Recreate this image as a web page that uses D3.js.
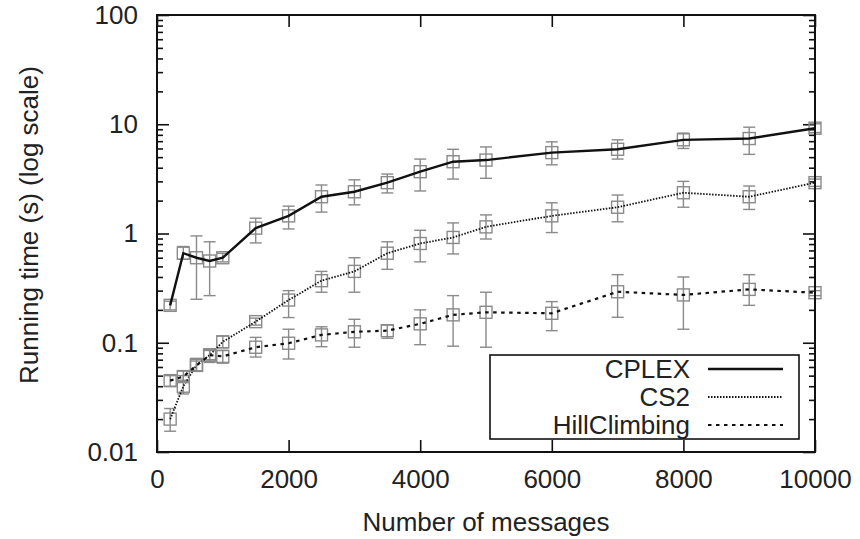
<!DOCTYPE html>
<html>
<head>
<meta charset="utf-8">
<script src="https://cdn.jsdelivr.net/npm/d3@7"></script>
<style>
  html, body { margin: 0; padding: 0; background: #fff; }
  svg { display: block; }
  text { font-family: "Liberation Sans", Arial, Helvetica, sans-serif; fill: #222; }
</style>
</head>
<body>
<svg id="chart" width="860" height="539"></svg>
<script>
// ---- data ----
const messages = [200, 400, 600, 800, 1000, 1500, 2000, 2500, 3000, 3500, 4000, 4500, 5000, 6000, 7000, 8000, 9000, 10000];

const cplexMean = [0.22, 0.66, 0.60, 0.56, 0.60, 1.12, 1.45, 2.17, 2.41, 2.92, 3.68, 4.54, 4.7, 5.5, 5.9, 7.2, 7.4, 9.2];
const cplexLow  = [0.20, 0.58, 0.25, 0.27, 0.55, 0.82, 1.10, 1.57, 1.83, 2.35, 2.45, 3.15, 3.2, 4.25, 4.8, 6.0, 5.3, 8.4];
const cplexHigh = [0.24, 0.76, 0.95, 0.84, 0.66, 1.38, 1.78, 2.78, 3.10, 3.50, 4.80, 5.90, 6.2, 6.9, 7.2, 8.3, 9.4, 10.1];

const cs2Mean = [0.020, 0.040, 0.0625, 0.077, 0.102, 0.156, 0.246, 0.37, 0.45, 0.66, 0.81, 0.92, 1.15, 1.45, 1.74, 2.36, 2.17, 2.92];
const cs2Low  = [0.0155, 0.034, 0.055, 0.070, 0.090, 0.145, 0.17, 0.29, 0.29, 0.47, 0.55, 0.65, 0.89, 1.02, 1.28, 1.74, 1.66, 2.7];
const cs2High = [0.025, 0.050, 0.072, 0.088, 0.115, 0.168, 0.30, 0.45, 0.60, 0.84, 1.07, 1.25, 1.48, 1.91, 2.25, 3.0, 2.72, 3.15];

const hcMean = [0.045, 0.049, 0.062, 0.077, 0.075, 0.091, 0.099, 0.118, 0.126, 0.129, 0.149, 0.18, 0.19, 0.186, 0.293, 0.274, 0.308, 0.287];
const hcLow  = [0.040, 0.044, 0.055, 0.066, 0.065, 0.074, 0.071, 0.092, 0.091, 0.110, 0.096, 0.093, 0.091, 0.129, 0.171, 0.133, 0.22, 0.27];
const hcHigh = [0.050, 0.055, 0.068, 0.085, 0.085, 0.112, 0.133, 0.140, 0.164, 0.145, 0.200, 0.27, 0.29, 0.238, 0.42, 0.40, 0.42, 0.30];

const seriesNames = ["CPLEX", "CS2", "HillClimbing"];
const xTickValues = [0, 2000, 4000, 6000, 8000, 10000];
const yTickValues = [0.01, 0.1, 1, 10, 100];
const yTickLabels = ["0.01", "0.1", "1", "10", "100"];
const xLabel = "Number of messages";
const yLabel = "Running time (s) (log scale)";

// ---- layout ----
const svg = d3.select("#chart");
const L = 157, R = 815, T = 15, B = 452;
const x = d3.scaleLinear().domain([0, 10000]).range([L, R]);
const y = d3.scaleLog().domain([0.01, 100]).range([B, T]);

const styles = [
  { dash: null, width: 2.4 },
  { dash: "1.5,1.5", width: 1.8 },
  { dash: "3.5,4.5", width: 2.2 }
];

const series = [
  { name: seriesNames[0], mean: cplexMean, lo: cplexLow, hi: cplexHigh },
  { name: seriesNames[1], mean: cs2Mean, lo: cs2Low, hi: cs2High },
  { name: seriesNames[2], mean: hcMean, lo: hcLow, hi: hcHigh }
];

const FS = 26;
const grey = "#8a8a8a";

// axes (ticks pointing inward)
const fmt = d => yTickLabels[yTickValues.indexOf(d)] ?? "";
const axisB = d3.axisBottom(x).tickValues(xTickValues).tickSizeInner(-12).tickSizeOuter(0).tickPadding(18).tickFormat(d3.format("d"));
const axisT = d3.axisTop(x).tickValues(xTickValues).tickSizeInner(-12).tickSizeOuter(0).tickFormat("");
const axisLf = d3.axisLeft(y).tickValues(yTickValues).tickSizeInner(-12).tickSizeOuter(0).tickPadding(19).tickFormat(fmt);
const axisRt = d3.axisRight(y).tickValues(yTickValues).tickSizeInner(-12).tickSizeOuter(0).tickFormat("");

const minorVals = [];
for (let e = -2; e < 2; e++) for (let m = 2; m <= 9; m++) minorVals.push(m * Math.pow(10, e));
const minorL = d3.axisLeft(y).tickValues(minorVals).tickSizeInner(-6).tickSizeOuter(0).tickFormat("");
const minorR = d3.axisRight(y).tickValues(minorVals).tickSizeInner(-6).tickSizeOuter(0).tickFormat("");

function styleAxis(g) {
  g.select(".domain").remove();
  g.selectAll("line").attr("stroke", "#111").attr("stroke-width", 1.6);
  g.selectAll("text").style("font-size", FS + "px").attr("fill", "#222")
    .style("font-family", "'Liberation Sans', Arial, sans-serif");
}
svg.append("g").attr("transform", `translate(0,${B})`).call(axisB).call(styleAxis);
svg.append("g").attr("transform", `translate(0,${T})`).call(axisT).call(styleAxis);
svg.append("g").attr("transform", `translate(${L},0)`).call(axisLf).call(styleAxis);
svg.append("g").attr("transform", `translate(${R},0)`).call(axisRt).call(styleAxis);
svg.append("g").attr("transform", `translate(${L},0)`).call(minorL).call(styleAxis);
svg.append("g").attr("transform", `translate(${R},0)`).call(minorR).call(styleAxis);

// data
const line = d3.line().x(d => x(d[0])).y(d => y(d[1]));
series.forEach((s, si) => {
  const g = svg.append("g");
  const pts = messages.map((m, i) => ({ m, v: s.mean[i], lo: s.lo[i], hi: s.hi[i] }));
  // error bars
  pts.forEach(p => {
    const cx = x(p.m);
    g.append("line").attr("x1", cx).attr("x2", cx).attr("y1", y(p.lo)).attr("y2", y(p.hi))
      .attr("stroke", grey).attr("stroke-width", 1.4);
    [p.lo, p.hi].forEach(v => {
      g.append("line").attr("x1", cx - 6).attr("x2", cx + 6).attr("y1", y(v)).attr("y2", y(v))
        .attr("stroke", grey).attr("stroke-width", 1.4);
    });
    g.append("rect").attr("x", cx - 6).attr("y", y(p.v) - 6).attr("width", 12).attr("height", 12)
      .attr("fill", "none").attr("stroke", grey).attr("stroke-width", 1.4);
  });
  g.append("path").datum(pts.map(p => [p.m, p.v])).attr("d", line)
    .attr("fill", "none").attr("stroke", "#111").attr("stroke-width", styles[si].width)
    .attr("stroke-dasharray", styles[si].dash);
});

// frame
svg.append("rect").attr("x", L).attr("y", T).attr("width", R - L).attr("height", B - T)
  .attr("fill", "none").attr("stroke", "#111").attr("stroke-width", 2);

// legend
const lg = svg.append("g");
lg.append("rect").attr("x", 490).attr("y", 355).attr("width", 309).attr("height", 84)
  .attr("fill", "none").attr("stroke", "#111").attr("stroke-width", 1.6);
const rowY = [369, 397, 425];
series.forEach((s, si) => {
  lg.append("text").attr("x", 690).attr("y", rowY[si] + 9).attr("text-anchor", "end")
    .style("font-size", FS + "px").text(s.name);
  lg.append("line").attr("x1", 708).attr("x2", 783).attr("y1", rowY[si]).attr("y2", rowY[si])
    .attr("stroke", "#111").attr("stroke-width", styles[si].width).attr("stroke-dasharray", styles[si].dash);
});

// axis titles
svg.append("text").attr("x", 486).attr("y", 531).attr("text-anchor", "middle")
  .style("font-size", FS + "px").text(xLabel);
svg.append("text").attr("transform", "translate(38,225) rotate(-90)").attr("text-anchor", "middle")
  .style("font-size", FS + "px").text(yLabel);
</script>
</body>
</html>
